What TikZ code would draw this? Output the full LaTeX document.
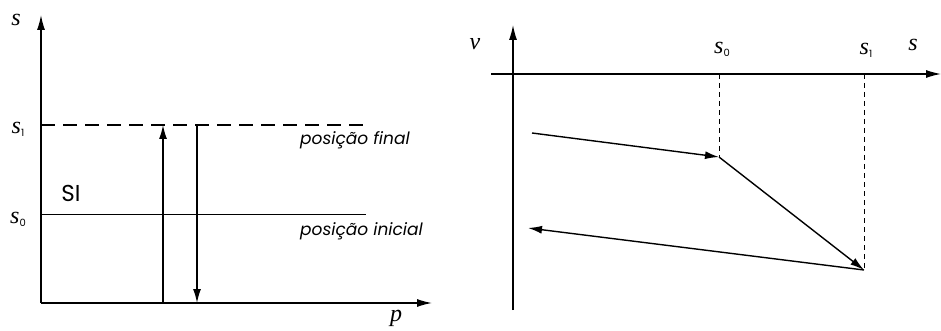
\documentclass[tikz,border=0pt]{standalone}
\usepackage{fontspec}
\setmainfont{Liberation Serif}
\newfontfamily\labelfont{Poppins}
\usetikzlibrary{arrows.meta, positioning, calc}
\tikzset{
  axis/.style={-{Latex[length=15pt,width=8pt]}, line width=1.3pt},
  vec/.style={-{Latex[length=14pt,width=8pt]}, line width=1.4pt},
  level/.style={line width=1pt},
  final/.style={line width=2pt, dash pattern=on 14pt off 8pt},
  guide/.style={line width=0.9pt, dash pattern=on 5pt off 4pt},
  varlbl/.style={font=\fontsize{24}{26}\selectfont\itshape, inner sep=0pt},
  poslbl/.style={font=\labelfont\fontsize{17}{20}\selectfont\itshape, inner sep=0pt, anchor=west},
}
\newcommand{\svar}[1]{\textit{s}\raisebox{-3pt}{\labelfont\upshape\fontsize{10}{10}\selectfont #1}}

\begin{document}
\begin{tikzpicture}[x=1pt,y=-1pt]
\useasboundingbox (0,0) rectangle (941,331);
% left: s against p
\coordinate (o1) at (41,303);
\coordinate (stop) at (41,15);
\coordinate (pend) at (432,303);
\draw[axis] (o1) -- (stop);
\draw[axis] (o1) -- (pend);
\coordinate (s1l) at (41,125);
\coordinate (s1r) at (366,125);
\coordinate (s0l) at (41,214);
\coordinate (s0r) at (366,214);
\draw[final] (s1l) -- (s1r);
\draw[level] (s0l) -- (s0r);
\coordinate (upb) at (163,303);
\coordinate (upt) at (163,125);
\coordinate (dnt) at (197,125);
\coordinate (dnb) at (197,303);
\draw[vec] (upb) -- (upt);
\draw[vec] (dnt) -- (dnb);

\node[varlbl] (ls) at (16,20) {s};
\node[varlbl] (lp) at (396,318) {p};
\node[varlbl] (ls1) at (18,129) {\svar{1}};
\node[varlbl] (ls0) at (18,219) {\svar{0}};
\node[inner sep=0pt, font=\labelfont\fontsize{23}{24}\selectfont] (si) at (71,193) {SI};
\node[poslbl] (pfin) at (300,140) {posição final};
\node[poslbl] (pini) at (300,231) {posição inicial};

% right: v against s
\coordinate (vbot) at (513,310);
\coordinate (vtop) at (513,25);
\coordinate (sbeg) at (491,74);
\coordinate (send) at (941,74);
\draw[axis] (vbot) -- (vtop);
\draw[axis] (sbeg) -- (send);
\coordinate (g0) at (719,74);
\coordinate (g1) at (864,74);
\coordinate (a) at (532,133);
\coordinate (b) at (719,157);
\coordinate (c) at (864,270);
\coordinate (d) at (528,228);
\draw[guide] (g0) -- (b);
\draw[guide] (g1) -- (c);
\foreach \p/\q in {a/b,b/c,c/d}
  \draw[vec] (\p) -- (\q);

\node[varlbl] (lv) at (475,44) {v};
\node[varlbl] (rs) at (913,45) {s};
\node[varlbl] (rs0) at (722,49) {\svar{0}};
\node[varlbl] (rs1) at (866,50) {\svar{1}};
\end{tikzpicture}
\end{document}
